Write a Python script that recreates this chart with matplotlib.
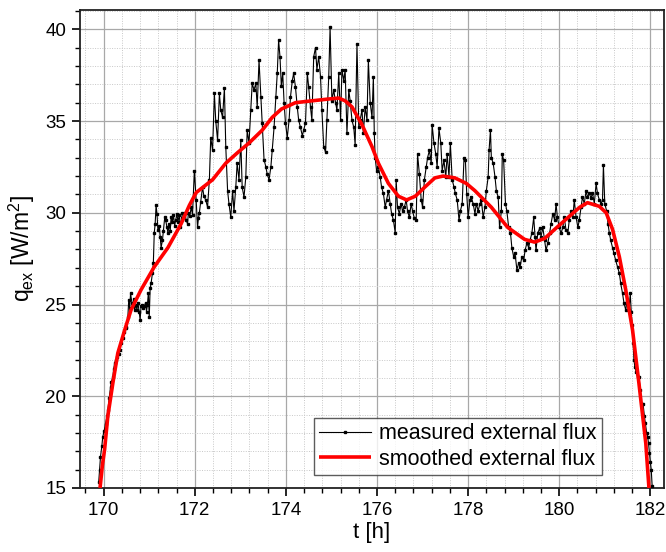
import matplotlib
matplotlib.use("Agg")
import matplotlib.pyplot as plt
from matplotlib.ticker import MultipleLocator

# measured external flux (t [h], q [W/m^2])
t_meas = [169.89, 169.91, 169.93, 169.96, 169.98, 170.01, 170.04, 170.07, 170.09, 170.12,
          170.15, 170.17, 170.20, 170.22, 170.24, 170.27, 170.30, 170.33, 170.35, 170.38,
          170.42, 170.45, 170.48, 170.50, 170.53, 170.55, 170.57, 170.59, 170.62, 170.64,
          170.66, 170.68, 170.71, 170.73, 170.75, 170.78, 170.80, 170.82, 170.85, 170.87,
          170.89, 170.92, 170.94, 170.96, 170.98, 171.00, 171.02, 171.04, 171.07, 171.09,
          171.11, 171.13, 171.15, 171.17, 171.19, 171.22, 171.24, 171.26, 171.29, 171.31,
          171.34, 171.36, 171.39, 171.41, 171.44, 171.46, 171.48, 171.51, 171.53, 171.56,
          171.58, 171.61, 171.63, 171.66, 171.68, 171.71, 171.73, 171.76, 171.78, 171.81,
          171.84, 171.86, 171.89, 171.92, 171.95, 171.99, 172.03, 172.06, 172.08, 172.10,
          172.13, 172.17, 172.20, 172.24, 172.28, 172.32, 172.35, 172.39, 172.43, 172.46,
          172.50, 172.54, 172.57, 172.61, 172.65, 172.68, 172.72, 172.75, 172.79, 172.83,
          172.86, 172.90, 172.93, 172.97, 173.01, 173.04, 173.08, 173.12, 173.15, 173.19,
          173.23, 173.26, 173.30, 173.34, 173.37, 173.41, 173.45, 173.48, 173.52, 173.56,
          173.59, 173.63, 173.67, 173.70, 173.74, 173.78, 173.81, 173.84, 173.87, 173.90,
          173.93, 173.96, 173.99, 174.03, 174.07, 174.10, 174.14, 174.17, 174.21, 174.25,
          174.28, 174.32, 174.36, 174.39, 174.43, 174.47, 174.50, 174.54, 174.57, 174.61,
          174.65, 174.68, 174.72, 174.76, 174.79, 174.83, 174.87, 174.90, 174.94, 174.97,
          175.01, 175.05, 175.09, 175.12, 175.16, 175.20, 175.23, 175.27, 175.30, 175.34,
          175.38, 175.41, 175.45, 175.49, 175.52, 175.56, 175.60, 175.63, 175.67, 175.70,
          175.74, 175.78, 175.81, 175.85, 175.89, 175.92, 175.94, 175.96, 175.99, 176.03,
          176.07, 176.10, 176.14, 176.18, 176.21, 176.25, 176.29, 176.32, 176.36, 176.40,
          176.42, 176.45, 176.49, 176.53, 176.56, 176.60, 176.64, 176.67, 176.71, 176.75,
          176.78, 176.82, 176.86, 176.89, 176.93, 176.97, 177.00, 177.04, 177.08, 177.11,
          177.15, 177.19, 177.21, 177.25, 177.29, 177.32, 177.36, 177.40, 177.43, 177.47,
          177.51, 177.54, 177.58, 177.61, 177.65, 177.69, 177.72, 177.76, 177.80, 177.83,
          177.87, 177.91, 177.94, 177.97, 178.00, 178.04, 178.07, 178.11, 178.15, 178.18,
          178.22, 178.26, 178.29, 178.33, 178.37, 178.40, 178.44, 178.46, 178.49, 178.51,
          178.55, 178.59, 178.62, 178.66, 178.69, 178.73, 178.75, 178.78, 178.82, 178.85,
          178.89, 178.93, 178.96, 179.00, 179.03, 179.07, 179.11, 179.14, 179.18, 179.22,
          179.25, 179.29, 179.33, 179.36, 179.40, 179.44, 179.47, 179.49, 179.53, 179.57,
          179.60, 179.64, 179.68, 179.71, 179.75, 179.79, 179.82, 179.86, 179.90, 179.93,
          179.96, 180.00, 180.04, 180.08, 180.11, 180.15, 180.19, 180.22, 180.26, 180.30,
          180.33, 180.37, 180.41, 180.44, 180.48, 180.51, 180.55, 180.59, 180.62, 180.66,
          180.70, 180.73, 180.77, 180.81, 180.84, 180.88, 180.92, 180.95, 180.97, 181.00,
          181.04, 181.07, 181.10, 181.13, 181.17, 181.20, 181.24, 181.28, 181.32, 181.35,
          181.39, 181.42, 181.46, 181.49, 181.53, 181.56, 181.58, 181.60, 181.62, 181.64,
          181.66, 181.69, 181.72, 181.75, 181.78, 181.81, 181.84, 181.87, 181.89, 181.92,
          181.94, 181.96, 181.98, 182.00, 182.02, 182.04]
q_meas = [15.3, 16.0, 16.7, 17.3, 17.8, 18.1, 18.5, 18.9, 19.25, 19.9,
          20.5, 20.8, 21.05, 21.5, 21.8, 22.0, 22.15, 22.3, 22.5, 22.9,
          23.2, 23.5, 23.7, 23.8, 24.3, 25.25, 24.8, 25.6, 25.1, 24.9,
          25.3, 24.7, 25.0, 24.7, 25.1, 24.6, 24.15, 24.9, 25.0, 24.8,
          24.9, 25.1, 24.6, 25.0, 25.6, 24.3, 25.9, 26.15, 26.7, 27.25,
          28.9, 29.4, 30.4, 29.95, 29.05, 29.3, 28.7, 28.1, 28.5, 29.0,
          29.75, 29.6, 29.2, 28.9, 29.4, 29.0, 29.75, 29.5, 29.9, 29.3,
          29.6, 29.95, 29.5, 29.9, 29.2, 29.7, 30.0, 29.8, 30.0, 29.6,
          29.4, 30.0, 29.8, 30.3, 29.9, 32.3, 30.7, 29.2, 29.7, 30.0,
          30.6, 31.4, 30.9, 30.7, 30.3, 31.8, 34.1, 33.4, 36.5, 35.0,
          33.95, 36.5, 35.6, 35.2, 36.8, 33.6, 31.2, 30.5, 29.75, 31.2,
          30.1, 31.4, 32.7, 31.8, 33.95, 31.4, 30.85, 31.95, 34.5, 33.8,
          35.6, 37.05, 36.7, 37.05, 35.75, 38.3, 36.3, 34.9, 32.9, 32.5,
          32.1, 31.8, 32.5, 33.4, 34.65, 36.3, 37.6, 39.4, 38.5, 36.9,
          37.6, 36.0, 34.9, 34.1, 35.05, 36.3, 37.2, 37.6, 36.85, 35.75,
          35.05, 34.65, 34.2, 34.5, 34.9, 37.6, 36.85, 35.75, 35.05, 38.5,
          39.0, 37.8, 38.5, 37.4, 35.6, 33.6, 33.3, 35.05, 37.4, 40.1,
          36.1, 36.7, 36.0, 35.6, 37.6, 35.05, 37.8, 37.2, 37.8, 34.35,
          36.7, 36.1, 35.05, 34.65, 33.7, 39.2, 34.65, 35.05, 35.6, 34.35,
          35.75, 35.05, 38.3, 36.0, 35.2, 37.4, 34.35, 33.0, 32.3, 32.5,
          31.95, 31.4, 31.05, 30.3, 30.7, 31.2, 30.5, 29.95, 29.6, 28.9,
          31.8, 30.3, 29.95, 30.5, 30.1, 30.3, 30.7, 30.1, 29.75, 30.5,
          30.1, 29.7, 29.6, 33.2, 32.1, 30.7, 30.3, 31.8, 32.5, 33.0,
          33.4, 32.7, 34.8, 33.8, 33.2, 32.5, 34.6, 33.8, 32.3, 32.85,
          31.95, 33.2, 31.95, 33.8, 31.8, 31.4, 31.05, 30.7, 29.6, 30.1,
          30.5, 33.0, 32.9, 31.0, 29.75, 30.7, 30.85, 30.5, 29.95, 30.5,
          30.1, 30.5, 30.7, 29.75, 30.3, 31.2, 31.95, 33.4, 34.5, 33.0,
          32.7, 31.95, 31.2, 30.85, 29.2, 30.1, 33.2, 32.85, 30.5, 30.1,
          29.2, 28.9, 28.1, 27.6, 27.8, 26.9, 27.25, 27.05, 27.6, 27.4,
          27.95, 28.35, 28.1, 28.5, 28.9, 29.75, 28.7, 27.95, 28.9, 29.15,
          28.7, 29.2, 28.5, 27.95, 28.35, 28.9, 29.4, 29.95, 29.6, 30.5,
          29.75, 29.2, 28.9, 29.2, 29.75, 29.05, 28.9, 29.6, 30.1, 29.75,
          30.7, 29.75, 29.2, 29.6, 30.3, 30.85, 30.5, 31.2, 30.85, 31.05,
          30.8, 31.1, 30.5, 31.6, 31.05, 30.7, 30.5, 30.7, 32.6, 30.5,
          30.1, 29.4, 28.9, 28.5, 28.1, 27.8, 27.4, 27.05, 26.7, 26.15,
          25.6, 25.1, 24.7, 25.2, 24.7, 25.6, 24.6, 23.9, 22.9, 22.0,
          21.6, 21.3, 21.05, 21.05, 20.35, 19.6, 19.6, 18.9, 18.55, 18.0,
          17.8, 17.45, 16.9, 16.4, 16.0, 15.1]

# smoothed external flux
t_smooth = [169.92, 169.97, 170.02, 170.09, 170.20, 170.31, 170.46, 170.60, 170.82, 171.11,
            171.41, 171.70, 171.88, 172.03, 172.39, 172.68, 172.95, 173.19, 173.48, 173.70,
            173.90, 174.21, 174.57, 174.94, 175.16, 175.30, 175.45, 175.67, 175.89, 176.03,
            176.25, 176.47, 176.65, 176.84, 177.05, 177.27, 177.45, 177.71, 177.96, 178.15,
            178.51, 178.87, 179.24, 179.46, 179.68, 179.97, 180.22, 180.45, 180.62, 180.88,
            181.03, 181.17, 181.32, 181.46, 181.61, 181.75, 181.90, 181.97]
q_smooth = [15.0, 16.2, 17.1, 18.9, 20.7, 22.35, 23.6, 24.7, 25.8, 27.05,
            28.1, 29.4, 30.4, 31.1, 31.8, 32.7, 33.3, 33.8, 34.5, 35.2,
            35.65, 36.0, 36.1, 36.2, 36.25, 36.1, 35.77, 34.8, 33.6, 32.7,
            31.6, 30.9, 30.7, 30.9, 31.4, 31.9, 32.0, 31.9, 31.6, 31.2,
            30.3, 29.2, 28.55, 28.4, 28.6, 29.25, 29.8, 30.3, 30.55, 30.35,
            30.0, 29.1, 27.6, 25.8, 23.6, 20.7, 17.45, 15.0]

plt.rcParams['font.family'] = ['Liberation Sans', 'DejaVu Sans']
plt.rcParams['mathtext.fontset'] = 'custom'
plt.rcParams['mathtext.rm'] = 'Liberation Sans'
plt.rcParams['mathtext.it'] = 'Liberation Sans'

fig = plt.figure(figsize=(6.66, 5.52), dpi=100)
ax = fig.add_axes([80/666, 1-488/552, (664-80)/666, (488-10)/552])

ax.plot(t_meas, q_meas, color='black', lw=0.8, marker='s', markersize=1.8,
        label='measured external flux', zorder=3)
ax.plot(t_smooth, q_smooth, color='#ff0000', lw=2.6, solid_joinstyle='round',
        solid_capstyle='butt', label='smoothed external flux', zorder=4)

ax.set_xlim(169.48, 182.3)
ax.set_ylim(15, 41.05)
ax.xaxis.set_major_locator(MultipleLocator(2))
ax.xaxis.set_minor_locator(MultipleLocator(0.4))
ax.yaxis.set_major_locator(MultipleLocator(5))
ax.yaxis.set_minor_locator(MultipleLocator(1))

ax.grid(which='major', color='#a8a8a8', lw=0.9, ls='-', zorder=0)
ax.grid(which='minor', color='#c8c8c8', lw=0.7, ls=(0, (1, 1.5)), zorder=0)
ax.set_axisbelow(True)

for s in ax.spines.values():
    s.set_linewidth(1.3)
    s.set_color('#222222')

ax.tick_params(which='major', direction='out', length=6, width=1.2, labelsize=13.5,
               top=False, right=False, pad=4)
ax.tick_params(which='minor', direction='out', length=3.5, width=1.0,
               top=False, right=False)

ax.set_xlabel('t [h]', fontsize=16, labelpad=2)
ax.set_ylabel(r'q$_{\mathrm{ex}}$ [W/m$^{2}$]', fontsize=16.5, labelpad=6)

leg = ax.legend(loc='lower right', bbox_to_anchor=(0.894, 0.027), fontsize=15.5,
                frameon=True, fancybox=False, edgecolor='#333333',
                handlelength=2.4, handletextpad=0.4, borderpad=0.25,
                labelspacing=0.2, borderaxespad=0)
leg.get_frame().set_linewidth(1.0)

fig.savefig('out.png', dpi=100)
